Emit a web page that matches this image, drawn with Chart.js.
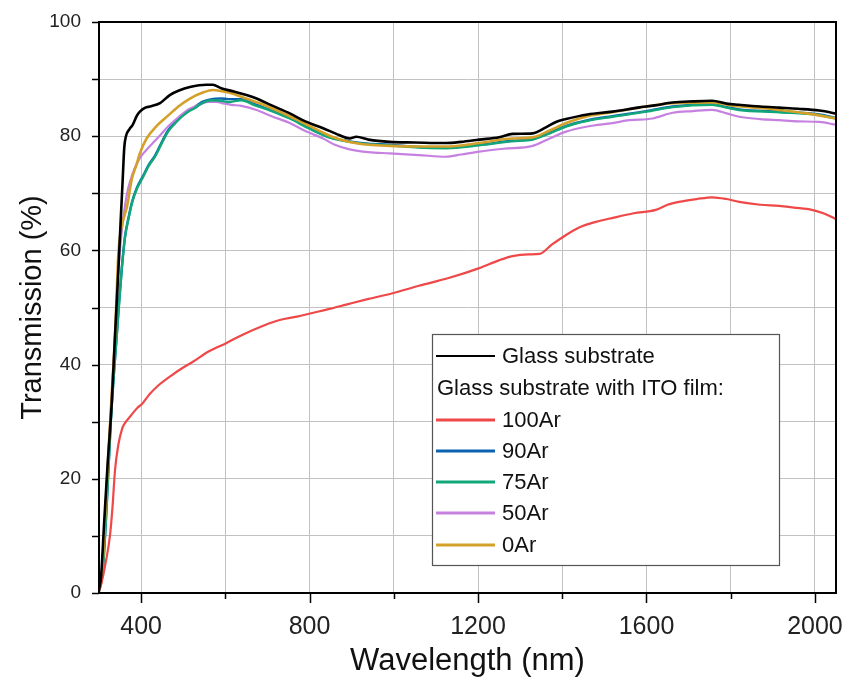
<!DOCTYPE html>
<html><head><meta charset="utf-8">
<script src="https://cdn.jsdelivr.net/npm/chart.js@4.4.1/dist/chart.umd.min.js"></script>
<style>html,body{margin:0;padding:0;background:#fff}#wrap{width:848px;height:677px}</style>
</head><body><div id="wrap"><canvas id="c" width="848" height="677"></canvas></div>
<script>
// ---- tick values ----
const xTickValues = [400,600,800,1000,1200,1400,1600,1800,2000];
const yTickValues = [0,10,20,30,40,50,60,70,80,90,100];

// ---- series: Glass substrate ----
const glassWl = [300,305,312,320,330,338,346,352,356,360,364,372,380,390,397,410,421,445,468,490,516,555,570,590,622,650,674,710,753,790,832,870,895,911,940,990,1050,1124,1160,1203,1250,1282,1330,1360,1385,1409,1460,1519,1580,1620,1662,1710,1756,1790,1820,1870,1915,1960,2010,2035,2050];
const glassT  = [0.5,3,12,22,33,45,56.6,66,72,78,80,81.2,82,83.6,84.3,85,85.2,85.8,87.2,88,88.6,89,89,88.4,87.8,87.2,86.6,85.4,84,82.6,81.4,80.2,79.6,79.9,79.4,79,78.9,78.8,79,79.4,79.8,80.4,80.5,81.5,82.5,83,83.8,84.3,85,85.4,85.9,86.1,86.2,85.7,85.5,85.2,85,84.8,84.5,84.2,83.9];

// ---- 100Ar ----
const ar100Wl = [300,306,315,326,332,338,346,355,362,375,392,401,420,440,470,500,523,560,603,640,690,729,770,804,850,887,940,997,1060,1132,1203,1251,1282,1320,1346,1375,1409,1440,1480,1520,1570,1622,1650,1677,1720,1756,1790,1820,1870,1915,1950,1993,2020,2050];
const ar100T  = [0.3,1.8,5,10,15,21.5,26,28.8,29.8,31,32.5,33,34.8,36.3,38,39.5,40.5,42.3,43.8,45.2,46.8,47.8,48.4,49,49.8,50.5,51.5,52.5,53.8,55.2,56.9,58.3,59,59.3,59.4,61,62.7,64,65,65.7,66.5,67.1,68,68.5,69,69.3,69,68.5,68,67.8,67.5,67.1,66.5,65.5];

// ---- 90Ar ----
const ar90Wl = [300,309,318,328,335,342,348,354,362,370,378,390,405,418,433,448,464,480,496,512,527,545,567,590,607,638,670,710,753,800,850,895,940,990,1060,1124,1203,1280,1330,1370,1409,1460,1519,1600,1662,1756,1790,1820,1915,2010,2050];
const ar90T  = [0.3,4,15,30,38,45,51.2,56.8,62.6,65.7,68.4,71,73.1,75,76.6,78.8,81,82.4,83.6,84.5,85.1,86,86.5,86.6,86.5,86.5,85.6,84.5,83.2,81.4,79.8,79.1,78.7,78.5,78.1,78,78.5,79.2,79.5,80.6,81.8,82.8,83.5,84.4,85.2,85.6,85.1,84.7,84.3,83.8,83.2];

// ---- 75Ar ----
const ar75Wl = [300,309,318,328,335,342,348,354,362,370,378,390,405,418,433,448,464,480,496,512,527,545,567,590,607,638,670,710,753,800,850,895,940,990,1060,1124,1203,1280,1330,1370,1409,1460,1519,1600,1662,1756,1790,1820,1915,2010,2050];
const ar75T  = [0.3,4,15,30,38,44.9,51,56.6,62.4,65.5,68.2,70.8,72.9,74.8,76.4,78.6,80.8,82.2,83.4,84.3,84.9,85.8,86.3,86.2,86,86.3,85.4,84.4,83.1,81.3,79.7,79,78.6,78.4,78,77.9,78.4,79.1,79.4,80.5,81.7,82.7,83.4,84.3,85.1,85.5,85,84.6,84.2,83.7,83.1];

// ---- 50Ar ----
const ar50Wl = [300,306,315,325,332,338,346,355,362,369,380,390,401,415,433,448,464,490,512,535,559,580,591,615,638,674,710,753,790,832,860,895,940,990,1060,1124,1160,1203,1260,1330,1370,1409,1460,1519,1560,1614,1662,1710,1756,1790,1820,1870,1915,1960,2010,2050];
const ar50T  = [0.5,2.5,14,28,37,45,56.6,64,68,70.8,73.5,75.2,76.6,77.8,79.2,80.4,81.7,83.4,84.7,85.4,86,86,85.8,85.5,85.3,84.6,83.5,82.3,80.9,79.6,78.5,77.7,77.2,77,76.7,76.4,76.8,77.3,77.8,78.3,79.6,80.8,81.7,82.3,82.8,83.1,84.1,84.4,84.6,84,83.4,83,82.8,82.6,82.5,82];

// ---- 0Ar ----
const ar0Wl = [300,306,315,325,332,338,346,352,360,366,378,389,397,413,437,464,490,516,545,571,590,610,638,680,720,753,800,850,895,940,990,1060,1124,1203,1280,1330,1370,1409,1460,1519,1600,1662,1756,1800,1860,1915,1980,2050];
const ar0T  = [0.5,2.3,14,28,37,45,59.5,63.5,66,67.5,72.5,75,77,79.6,81.8,83.6,85.3,86.6,87.6,88.1,87.9,87.6,86.9,85.8,84.6,83.5,81.8,80,79,78.5,78.3,78.2,78.2,78.8,79.6,79.8,81,82.3,83.5,84.2,85.2,85.8,85.9,85.4,85,84.6,84,83.1];

const FONT = "'Liberation Sans', Arial, sans-serif";
const pts = (w, t) => w.map((x, i) => ({x, y: t[i]}));

const mk = (label, w, t, color, width, order) => ({
  label, data: pts(w, t), borderColor: color, backgroundColor: color,
  borderWidth: width, pointRadius: 0, fill: false, order,
  cubicInterpolationMode: 'monotone'
});

const datasets = [
  mk('Glass substrate', glassWl, glassT, '#000000', 2.6, 0),
  mk('100Ar', ar100Wl, ar100T, '#ef4848', 2.2, 1),
  mk('90Ar', ar90Wl, ar90T, '#0b63b0', 2.4, 5),
  mk('75Ar', ar75Wl, ar75T, '#12a77a', 2.4, 3),
  mk('50Ar', ar50Wl, ar50T, '#c681e0', 2.2, 4),
  mk('0Ar', ar0Wl, ar0T, '#d3a12a', 2.6, 2)
];

const noPad = s => { s.paddingLeft = 0; s.paddingRight = 0; s.paddingTop = 0; s.paddingBottom = 0; };

const framePlugin = {
  id: 'frame',
  afterDatasetsDraw(chart) {
    const {ctx, chartArea: a, scales: {x, y}} = chart;
    ctx.save();
    // ticks
    ctx.strokeStyle = '#000'; ctx.lineWidth = 1.5;
    xTickValues.forEach(v => {
      const px = Math.round(x.getPixelForValue(v)) + 0.5;
      const len = v % 400 === 0 ? 10 : 6;
      ctx.beginPath(); ctx.moveTo(px, a.bottom); ctx.lineTo(px, a.bottom + len); ctx.stroke();
    });
    yTickValues.forEach(v => {
      const py = Math.round(y.getPixelForValue(v)) + 0.5;
      ctx.beginPath(); ctx.moveTo(a.left, py); ctx.lineTo(a.left - 7, py); ctx.stroke();
    });
    // frame
    ctx.lineWidth = 2; ctx.strokeStyle = '#000';
    ctx.strokeRect(a.left, a.top, a.right - a.left, a.bottom - a.top);
    // legend
    const L = 432, T = 334, R = 779, B = 565;
    ctx.fillStyle = '#fff';
    ctx.fillRect(L, T, R - L, B - T);
    ctx.lineWidth = 1.2; ctx.strokeStyle = '#555';
    ctx.strokeRect(L + 0.5, T + 0.5, R - L, B - T);
    ctx.font = '22px ' + FONT;
    ctx.textBaseline = 'middle';
    ctx.fillStyle = '#111';
    const rows = [
      {ds: 0, y: 356},
      {header: 'Glass substrate with ITO film:', y: 389},
      {ds: 1, y: 420}, {ds: 2, y: 451}, {ds: 3, y: 482}, {ds: 4, y: 513}, {ds: 5, y: 545}
    ];
    rows.forEach(r => {
      if (r.header) { ctx.fillStyle = '#111'; ctx.fillText(r.header, 437, r.y); return; }
      const d = chart.data.datasets[r.ds];
      ctx.strokeStyle = d.borderColor; ctx.lineWidth = r.ds === 0 ? 2 : 3;
      ctx.beginPath(); ctx.moveTo(436, r.y); ctx.lineTo(495, r.y); ctx.stroke();
      ctx.fillStyle = '#111';
      ctx.fillText(d.label, 502, r.y + 1);
    });
    ctx.restore();
  }
};

new Chart(document.getElementById('c'), {
  type: 'line',
  data: { datasets },
  options: {
    responsive: false, animation: false, devicePixelRatio: 1,
    layout: { padding: { left: 0, right: 12, top: 22, bottom: 0 } },
    plugins: { legend: { display: false }, tooltip: { enabled: false } },
    scales: {
      x: {
        type: 'linear', min: 300, max: 2050,
        afterBuildTicks: s => { s.ticks = xTickValues.map(v => ({value: v})); },
        afterFit: s => { s.height = 84; noPad(s); },
        grid: { color: '#c2c2c2', lineWidth: 1, drawTicks: false },
        border: { display: false },
        ticks: { autoSkip: false, maxRotation: 0, padding: 19, color: '#222',
          font: { size: 25, family: FONT },
          callback: v => (v % 400 === 0 ? String(v) : '') },
        title: { display: true, text: 'Wavelength (nm)', color: '#111',
          font: { size: 31, family: FONT, lineHeight: 1 }, padding: { top: 0, bottom: 0 } }
      },
      y: {
        type: 'linear', min: 0, max: 100,
        afterBuildTicks: s => { s.ticks = yTickValues.map(v => ({value: v})); },
        afterFit: s => { s.width = 99; noPad(s); },
        grid: { color: '#c2c2c2', lineWidth: 1, drawTicks: false },
        border: { display: false },
        ticks: { autoSkip: false, padding: 18, color: '#222',
          font: { size: 19, family: FONT },
          callback: v => (v % 20 === 0 ? String(v) : '') },
        title: { display: true, text: 'Transmission (%)', color: '#111',
          font: { size: 29, family: FONT, lineHeight: 1 }, padding: { top: 18, bottom: 0 } }
      }
    }
  },
  plugins: [framePlugin]
});
</script>
</body></html>
